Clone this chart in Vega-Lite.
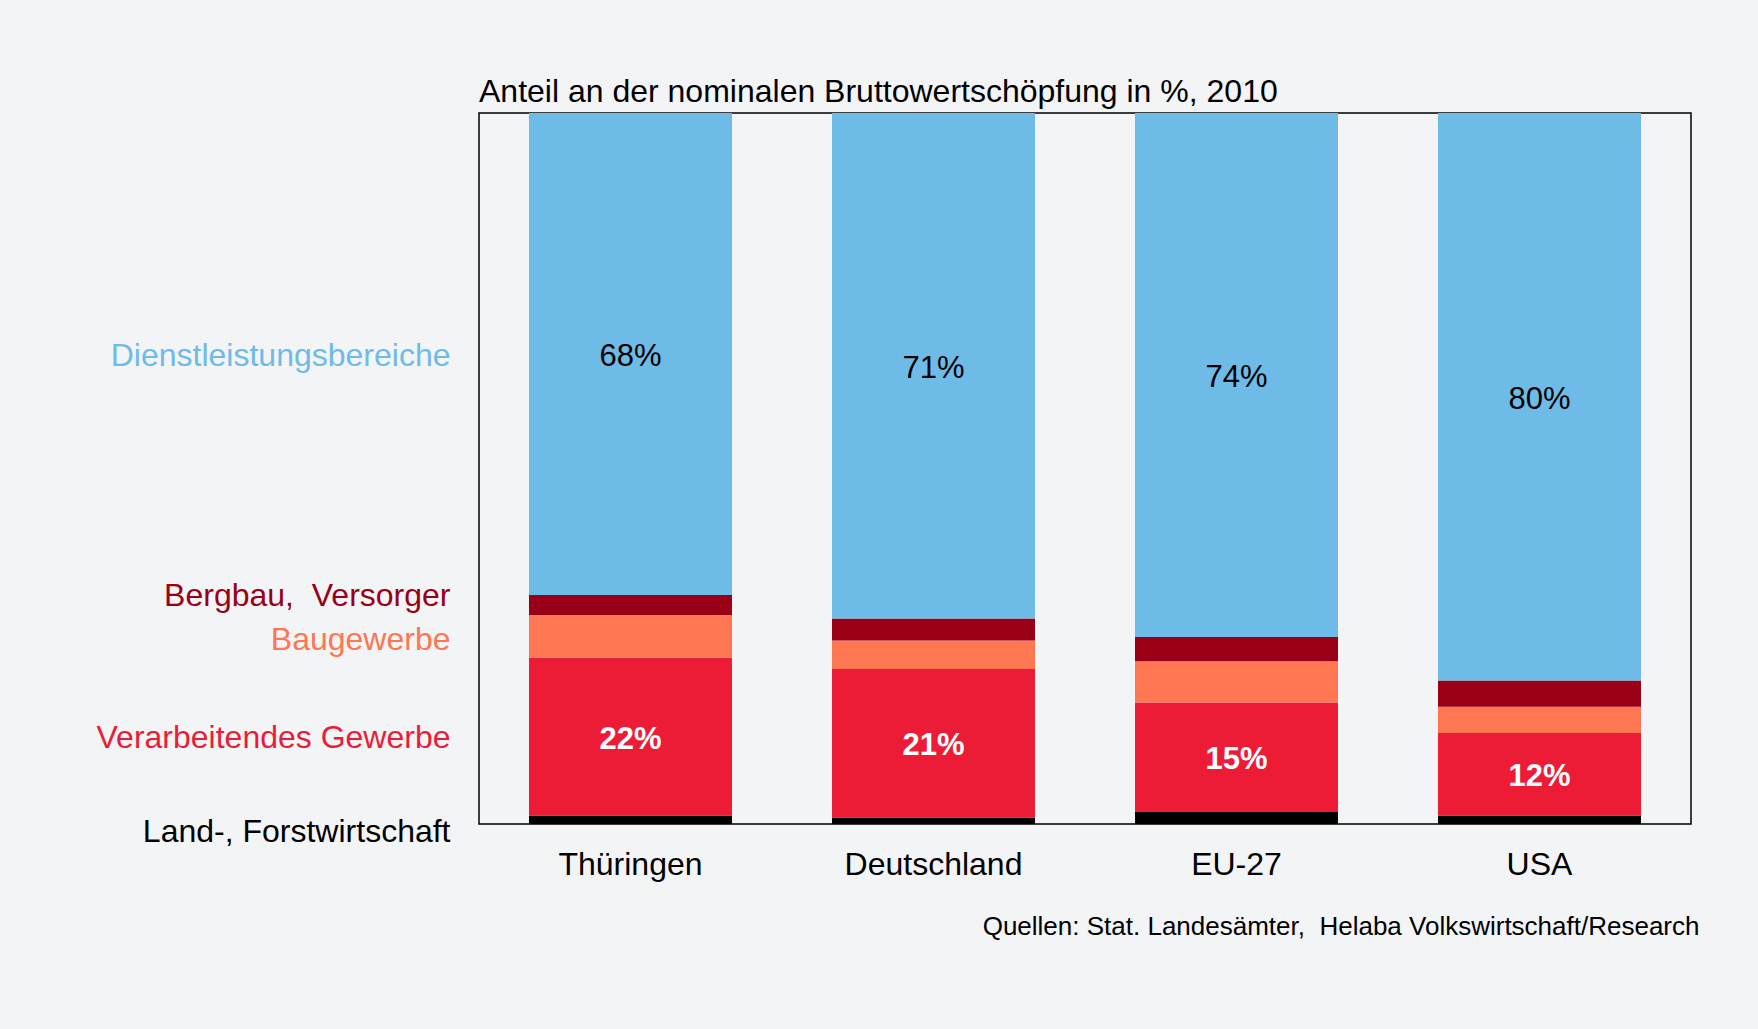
{
  "$schema": "https://vega.github.io/schema/vega-lite/v6.json",
  "width": 1212,
  "height": 711,
  "autosize": "none",
  "padding": {"left": 479, "top": 113, "right": 67, "bottom": 205},
  "background": "#f3f4f6",
  "config": {
    "font": "Liberation Sans",
    "view": {"stroke": "#000000", "strokeWidth": 1.5}
  },
  "title": {
    "text": "Anteil an der nominalen Bruttowertschöpfung in %, 2010",
    "anchor": "start",
    "frame": "group",
    "fontSize": 32,
    "fontWeight": "normal",
    "color": "#000000",
    "offset": 4
  },
  "data": {
    "values": [
      {"land": "Thüringen", "sektor": "Land-, Forstwirtschaft", "rang": 1, "anteil": 0.012},
      {"land": "Thüringen", "sektor": "Verarbeitendes Gewerbe", "rang": 2, "anteil": 0.222},
      {"land": "Thüringen", "sektor": "Baugewerbe", "rang": 3, "anteil": 0.060},
      {"land": "Thüringen", "sektor": "Bergbau, Versorger", "rang": 4, "anteil": 0.028},
      {"land": "Thüringen", "sektor": "Dienstleistungsbereiche", "rang": 5, "anteil": 0.678},
      {"land": "Deutschland", "sektor": "Land-, Forstwirtschaft", "rang": 1, "anteil": 0.009},
      {"land": "Deutschland", "sektor": "Verarbeitendes Gewerbe", "rang": 2, "anteil": 0.209},
      {"land": "Deutschland", "sektor": "Baugewerbe", "rang": 3, "anteil": 0.040},
      {"land": "Deutschland", "sektor": "Bergbau, Versorger", "rang": 4, "anteil": 0.031},
      {"land": "Deutschland", "sektor": "Dienstleistungsbereiche", "rang": 5, "anteil": 0.711},
      {"land": "EU-27", "sektor": "Land-, Forstwirtschaft", "rang": 1, "anteil": 0.017},
      {"land": "EU-27", "sektor": "Verarbeitendes Gewerbe", "rang": 2, "anteil": 0.154},
      {"land": "EU-27", "sektor": "Baugewerbe", "rang": 3, "anteil": 0.058},
      {"land": "EU-27", "sektor": "Bergbau, Versorger", "rang": 4, "anteil": 0.034},
      {"land": "EU-27", "sektor": "Dienstleistungsbereiche", "rang": 5, "anteil": 0.737},
      {"land": "USA", "sektor": "Land-, Forstwirtschaft", "rang": 1, "anteil": 0.012},
      {"land": "USA", "sektor": "Verarbeitendes Gewerbe", "rang": 2, "anteil": 0.116},
      {"land": "USA", "sektor": "Baugewerbe", "rang": 3, "anteil": 0.037},
      {"land": "USA", "sektor": "Bergbau, Versorger", "rang": 4, "anteil": 0.037},
      {"land": "USA", "sektor": "Dienstleistungsbereiche", "rang": 5, "anteil": 0.798}
    ]
  },
  "transform": [
    {"stack": "anteil", "groupby": ["land"], "sort": [{"field": "rang", "order": "ascending"}], "as": ["y0", "y1"]}
  ],
  "encoding": {
    "x": {
      "field": "land",
      "type": "nominal",
      "sort": ["Thüringen", "Deutschland", "EU-27", "USA"],
      "scale": {"paddingInner": 0.33, "paddingOuter": 0.165},
      "axis": {
        "title": "Quellen: Stat. Landesämter,\u00a0 Helaba Volkswirtschaft/Research",
        "titleX": 1220,
        "titleY": 102,
        "titleAlign": "right",
        "titleBaseline": "middle",
        "titleFontSize": 26,
        "titleFontWeight": "normal",
        "titleColor": "#000000",
        "labelAngle": 0,
        "labelFontSize": 32,
        "labelColor": "#000000",
        "labelPadding": 25,
        "ticks": false,
        "domain": false
      }
    }
  },
  "resolve": {"axis": {"y": "independent"}},
  "layer": [
    {
      "mark": {"type": "bar", "stroke": null},
      "encoding": {
        "y": {
          "field": "y0",
          "type": "quantitative",
          "scale": {"domain": [0, 1], "nice": false},
          "axis": {
            "title": null,
            "values": [0, 0.121, 0.259, 0.322, 0.659],
            "labelExpr": "datum.value > 0.5 ? 'Dienstleistungsbereiche' : datum.value > 0.3 ? 'Bergbau,\u00a0 Versorger' : datum.value > 0.2 ? 'Baugewerbe' : datum.value > 0.05 ? 'Verarbeitendes Gewerbe' : 'Land-, Forstwirtschaft'",
            "labelColor": {
              "condition": [
                {"test": "datum.value > 0.5", "value": "#6fbbe8"},
                {"test": "datum.value > 0.3", "value": "#990018"},
                {"test": "datum.value > 0.2", "value": "#ff7652"},
                {"test": "datum.value > 0.05", "value": "#ed1c36"}
              ],
              "value": "#000000"
            },
            "labelOffset": {
              "condition": {"test": "datum.value < 0.05", "value": 7},
              "value": 0
            },
            "labelFontSize": 32,
            "labelLimit": 0,
            "labelPadding": 29,
            "labelOverlap": false,
            "labelFlush": false,
            "ticks": false,
            "domain": false,
            "grid": false
          }
        },
        "y2": {"field": "y1"},
        "color": {
          "field": "sektor",
          "type": "nominal",
          "scale": {
            "domain": ["Land-, Forstwirtschaft", "Verarbeitendes Gewerbe", "Baugewerbe", "Bergbau, Versorger", "Dienstleistungsbereiche"],
            "range": ["#000000", "#ed1c36", "#ff7652", "#990018", "#6fbbe8"]
          },
          "legend": null
        }
      }
    },
    {
      "transform": [
        {"filter": "datum.sektor === 'Dienstleistungsbereiche'"},
        {"fold": ["y0", "y1"], "as": ["ende", "pos"]}
      ],
      "mark": {"type": "text", "fontSize": 31, "color": "#000000", "baseline": "middle", "dy": 3},
      "encoding": {
        "y": {"field": "pos", "aggregate": "mean", "type": "quantitative", "axis": null},
        "text": {"field": "anteil", "type": "quantitative", "format": ".0%"}
      }
    },
    {
      "transform": [
        {"filter": "datum.sektor === 'Verarbeitendes Gewerbe'"},
        {"fold": ["y0", "y1"], "as": ["ende", "pos"]}
      ],
      "mark": {"type": "text", "fontSize": 31, "fontWeight": "bold", "color": "#ffffff", "baseline": "middle", "dy": 3},
      "encoding": {
        "y": {"field": "pos", "aggregate": "mean", "type": "quantitative", "axis": null},
        "text": {"field": "anteil", "type": "quantitative", "format": ".0%"}
      }
    }
  ]
}
